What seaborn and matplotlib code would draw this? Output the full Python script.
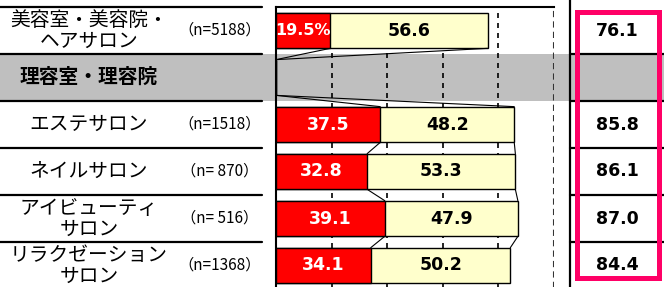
import numpy as np
import pandas as pd
import matplotlib
matplotlib.use('Agg')
import matplotlib.pyplot as plt
import matplotlib.transforms as mtransforms
from matplotlib.patches import Rectangle
from matplotlib.lines import Line2D
import seaborn as sns

# data
categories = ['美容室・美容院・\nヘアサロン', '理容室・理容院', 'エステサロン',
              'ネイルサロン', 'アイビューティ\nサロン', 'リラクゼーション\nサロン']
sample_sizes = ['（n=5188）', '', '（n=1518）', '（n= 870）', '（n= 516）', '（n=1368）']
red_values = [19.5, 0, 37.5, 32.8, 39.1, 34.1]
yellow_values = [56.6, 0, 48.2, 53.3, 47.9, 50.2]
total_labels = ['76.1', '', '85.8', '86.1', '87.0', '84.4']
header_rows = [1]

COLORS = {
    'red': '#FF0000',
    'yellow': '#FFFFCC',
    'gray': '#BFBFBF',
    'pink': '#FF0066',
}

sns.set_style('white')
plt.rcParams['font.family'] = ['Noto Sans CJK JP', 'DejaVu Sans']
plt.rcParams['text.color'] = 'black'

W, H = 664, 287
fig = plt.figure(figsize=(W / 100, H / 100), dpi=100)
px = lambda v: v / W          # x pixel -> figure fraction
py = lambda v: 1 - v / H      # y pixel (from top) -> figure fraction

ax = fig.add_axes([px(276), py(289), px(554) - px(276), py(7) - py(289)])
ax.set_facecolor('none')

df = pd.DataFrame({'cat': categories, 'red': red_values, 'yellow': yellow_values})
df['total'] = df['red'] + df['yellow']

bar_w = 0.76
sns.barplot(data=df, y='cat', x='total', color=COLORS['yellow'], saturation=1,
            edgecolor='black', linewidth=1, width=bar_w, orient='h', ax=ax, zorder=3)
sns.barplot(data=df, y='cat', x='red', color=COLORS['red'], saturation=1,
            edgecolor='black', linewidth=1, width=bar_w, orient='h', ax=ax, zorder=4)

ax.set_xlim(0, 100)
ax.set_ylim(len(categories) - 0.5, -0.5)
ax.set_xlabel('')
ax.set_ylabel('')
ax.set_xticks([20, 40, 60, 80])
ax.set_yticks([])
ax.tick_params(axis='x', length=0, labelbottom=False)
ax.set_axisbelow(True)
ax.grid(True, axis='x', color='black', linestyle=(0, (3, 3)), linewidth=1.2)
ax.axvline(100, color='#333333', linestyle=(0, (3, 2)), linewidth=1.5, zorder=2)
for side in ['top', 'left']:
    ax.spines[side].set_color('black')
    ax.spines[side].set_linewidth(1.5)
ax.spines['right'].set_visible(False)
ax.spines['bottom'].set_visible(False)

# series lines between neighbouring bars
red_arr = np.array(red_values)
tot_arr = df['total'].to_numpy()
for ends in (red_arr, tot_arr):
    for i in range(len(categories) - 1):
        ax.plot([ends[i], ends[i + 1]], [i + bar_w / 2, i + 1 - bar_w / 2],
                color='black', linewidth=0.8, zorder=5)

# values inside bars
for i in range(len(categories)):
    if i in header_rows:
        continue
    r, y = red_values[i], yellow_values[i]
    label = f'{r:.1f}%' if i == 0 else f'{r:.1f}'
    ax.text(r / 2, i, label, ha='center', va='center', color='white',
            fontsize=11.5 if i == 0 else 12.5, fontweight='bold',
            family='DejaVu Sans', zorder=6)
    ax.text(r + y / 2, i, f'{y:.1f}', ha='center', va='center', color='black',
            fontsize=12.5, fontweight='bold', family='DejaVu Sans', zorder=6)

# blended transform: x in figure fraction, y in category units
bt = mtransforms.blended_transform_factory(fig.transFigure, ax.transData)

# gray header band across the full width
ax.add_patch(Rectangle((0, 0.5), 1, 1, transform=bt, facecolor=COLORS['gray'],
                       edgecolor='none', clip_on=False, zorder=0.2))

# row separators on the label side and in the total column
for b in np.arange(-0.5, len(categories) - 0.5, 1.0):
    ax.add_line(Line2D([0, px(262)], [b, b], transform=bt, color='black',
                       linewidth=1.6, clip_on=False))
    if b > 0:
        ax.add_line(Line2D([px(570), 1], [b, b], transform=bt, color='black',
                           linewidth=1.6, clip_on=False))
fig.add_artist(Line2D([px(570), px(570)], [0, 1], color='black', linewidth=1.6))

# row labels
for i, (cat, n) in enumerate(zip(categories, sample_sizes)):
    bold = i in header_rows
    ax.text(px(89), i, cat, transform=bt, ha='center', va='center',
            fontsize=14.2, fontweight='bold' if bold else 'normal',
            linespacing=1.0, clip_on=False)
    if n:
        ax.text(px(220), i, n, transform=bt, ha='center', va='center',
                fontsize=11, clip_on=False)
    if total_labels[i]:
        ax.text(px(617.5), i, total_labels[i], transform=bt, ha='center',
                va='center', fontsize=12.5, fontweight='bold',
                family='DejaVu Sans', clip_on=False)

# highlight box around totals
fig.add_artist(Rectangle((px(576.5), py(278)), px(658.5) - px(576.5), py(12) - py(278),
                         facecolor='none', edgecolor=COLORS['pink'], linewidth=3.6))

fig.savefig('out.png', dpi=100)
plt.close(fig)
